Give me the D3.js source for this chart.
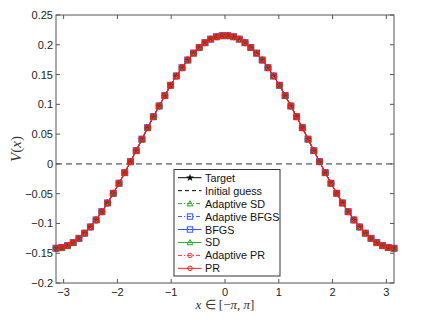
<!DOCTYPE html>
<html><head><meta charset="utf-8">
<script src="https://cdn.jsdelivr.net/npm/d3@7"></script>
<style>body{margin:0;background:#fff}svg{display:block}</style>
</head><body>
<svg id="c" width="436" height="327"></svg>
<script>
// V(x) values on the grid x_k = -pi + k*2pi/59, k = 0..59
const vHalf = [-0.1417,-0.1405,-0.1373,-0.1322,-0.1250,-0.1163,-0.1059,-0.0941,-0.0803,-0.0656,
  -0.0494,-0.0325,-0.0147,0.0037,0.0222,0.0415,0.0608,0.0792,0.0972,0.1147,
  0.1320,0.1476,0.1615,0.1744,0.1860,0.1955,0.2035,0.2095,0.2134,0.2152];
const vValues = vHalf.concat(vHalf.slice().reverse());
const nPts = vValues.length;
const xValues = vValues.map((v,i)=> -Math.PI + i*2*Math.PI/(nPts-1));
const initialGuess = [0, 0];
const xTicks = [-3,-2,-1,0,1,2,3];
const yTicks = [-0.2,-0.15,-0.1,-0.05,0,0.05,0.1,0.15,0.2,0.25];
const seriesNames = ["Target","Initial guess","Adaptive SD","Adaptive BFGS","BFGS","SD","Adaptive PR","PR"];

const svg = d3.select("#c");
const L=56, R=394, T=15, B=283;
const x = d3.scaleLinear().domain([-Math.PI, Math.PI]).range([L,R]);
const y = d3.scaleLinear().domain([-0.2,0.25]).range([B,T]);
const axisCol = "#555";
const font = "'Liberation Sans', Arial, Helvetica, sans-serif";

const styles = {
  "Target": {color:"#000", dash:null, marker:"star"},
  "Initial guess": {color:"#000", dash:"4,3", marker:null},
  "Adaptive SD": {color:"#22aa22", dash:"4,2,1,2", marker:"tri"},
  "Adaptive BFGS": {color:"#3355ff", dash:"4,2,1,2", marker:"sq"},
  "BFGS": {color:"#3355ff", dash:null, marker:"sq"},
  "SD": {color:"#22aa22", dash:null, marker:"tri"},
  "Adaptive PR": {color:"#ff3333", dash:"4,2,1,2", marker:"circ"},
  "PR": {color:"#ff1a1a", dash:null, marker:"circ"}
};
function drawMarker(g, type, cx, cy, col, scale, sw){
  scale = scale||1;
  if(type==="star"){
    g.append("path").attr("d", d3.symbol(d3.symbolStar, 14*scale)())
     .attr("transform",`translate(${cx},${cy})`).attr("fill",col);
  } else if(type==="tri"){
    const s=3.2*scale;
    g.append("path").attr("d",`M${cx},${cy-s}L${cx+s},${cy+s*0.8}L${cx-s},${cy+s*0.8}Z`)
     .attr("fill","none").attr("stroke",col).attr("stroke-width",1);
  } else if(type==="sq"){
    const s=3*scale;
    g.append("rect").attr("x",cx-s).attr("y",cy-s).attr("width",2*s).attr("height",2*s)
     .attr("fill","none").attr("stroke",col).attr("stroke-width",1);
  } else if(type==="circ"){
    g.append("circle").attr("cx",cx).attr("cy",cy).attr("r",2.5*scale)
     .attr("fill","none").attr("stroke",col).attr("stroke-width",sw||1.9);
  }
}

const plot = svg.append("g");
plot.append("line").attr("x1",x(-Math.PI)).attr("x2",x(Math.PI))
  .attr("y1",y(initialGuess[0])).attr("y2",y(initialGuess[1]))
  .attr("stroke","#888").attr("stroke-width",1.6).attr("stroke-dasharray","6,4");

const line = d3.line().x((d,i)=>x(xValues[i])).y(d=>y(d));
const drawOrder = ["Target","Adaptive SD","Adaptive BFGS","BFGS","SD","Adaptive PR","PR"];
drawOrder.forEach(name=>{
  const st = styles[name];
  plot.append("path").attr("d",line(vValues)).attr("fill","none")
    .attr("stroke",st.color).attr("stroke-width",1)
    .attr("stroke-dasharray",st.dash);
});
["BFGS","SD","PR"].forEach(name=>{
  const st=styles[name];
  const g=plot.append("g");
  vValues.forEach((v,i)=>drawMarker(g, st.marker, x(xValues[i]), y(v), st.color));
});
{
  const g=plot.append("g");
  vValues.forEach((v,i)=>drawMarker(g, "star", x(xValues[i]), y(v), "#1a5a1a", 0.7));
}
plot.append("path").attr("d",line(vValues)).attr("fill","none").attr("stroke","#ff1a1a").attr("stroke-width",1);

const ax = svg.append("g");
ax.append("rect").attr("x",L).attr("y",T).attr("width",R-L).attr("height",B-T)
  .attr("fill","none").attr("stroke",axisCol).attr("stroke-width",1);
const tl=4;
xTicks.forEach(t=>{
  ax.append("line").attr("x1",x(t)).attr("x2",x(t)).attr("y1",B).attr("y2",B-tl).attr("stroke",axisCol);
  ax.append("line").attr("x1",x(t)).attr("x2",x(t)).attr("y1",T).attr("y2",T+tl).attr("stroke",axisCol);
  ax.append("text").attr("x",x(t)).attr("y",B+13).attr("text-anchor","middle")
    .attr("font-family",font).attr("font-size",11).attr("fill","#222")
    .text(t<0?"\u2212"+Math.abs(t):String(t));
});
yTicks.forEach(t=>{
  ax.append("line").attr("x1",L).attr("x2",L+tl).attr("y1",y(t)).attr("y2",y(t)).attr("stroke",axisCol);
  ax.append("line").attr("x1",R).attr("x2",R-tl).attr("y1",y(t)).attr("y2",y(t)).attr("stroke",axisCol);
  const s = d3.format("")(+t.toFixed(2));
  ax.append("text").attr("x",L-3).attr("y",y(t)+4).attr("text-anchor","end")
    .attr("font-family",font).attr("font-size",11).attr("fill","#222")
    .text(s.replace("-","\u2212"));
});
const xl = svg.append("text").attr("x",225).attr("y",309).attr("text-anchor","middle")
  .attr("font-family","'Liberation Serif',serif").attr("font-size",13).attr("fill","#333");
xl.append("tspan").attr("font-style","italic").text("x");
xl.append("tspan").text(" \u2208 [\u2212");
xl.append("tspan").attr("font-style","italic").text("\u03c0");
xl.append("tspan").text(", ");
xl.append("tspan").attr("font-style","italic").text("\u03c0");
xl.append("tspan").text("]");
const yl = svg.append("text").attr("transform","translate(21,149) rotate(-90)").attr("text-anchor","middle")
  .attr("font-family","'Liberation Serif',serif").attr("font-size",15).attr("fill","#333");
yl.append("tspan").attr("font-style","italic").text("V");
yl.append("tspan").text("(");
yl.append("tspan").attr("font-style","italic").text("x");
yl.append("tspan").text(")");

const lg = svg.append("g");
lg.append("rect").attr("x",174).attr("y",169.5).attr("width",106).attr("height",106.5)
  .attr("fill","#fff").attr("stroke","#333").attr("stroke-width",1);
seriesNames.forEach((name,i)=>{
  const st=styles[name];
  const yy = 177.7 + i*12.95;
  lg.append("line").attr("x1",178).attr("x2",201.5).attr("y1",yy).attr("y2",yy)
    .attr("stroke",st.color).attr("stroke-width",1).attr("stroke-dasharray",st.dash);
  if(st.marker) drawMarker(lg, st.marker, 190, yy, st.color, st.marker==="star"?1.3:0.9, 1);
  lg.append("text").attr("x",205).attr("y",yy+4).attr("font-family",font).attr("font-size",10.8)
    .attr("fill","#111").text(name);
});
</script>
</body></html>
